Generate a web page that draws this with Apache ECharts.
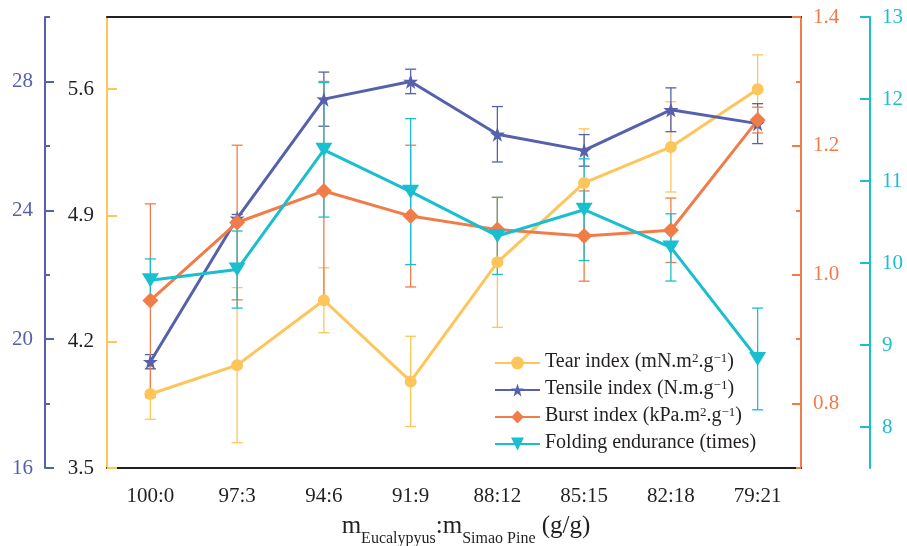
<!DOCTYPE html>
<html>
<head>
<meta charset="utf-8">
<script src="https://cdn.jsdelivr.net/npm/echarts@6/dist/echarts.min.js"></script>
<style>html,body{margin:0;padding:0;background:#fff}#c{width:907px;height:546px}</style>
</head>
<body>
<div id="c"></div>
<script>
const categories = ['100:0','97:3','94:6','91:9','88:12','85:15','82:18','79:21'];
const tearIndex = [3.91, 4.07, 4.43, 3.98, 4.64, 5.08, 5.28, 5.60];
const tearErr = [0.14, 0.43, 0.18, 0.25, 0.36, 0.30, 0.25, 0.19];
const tensileIndex = [19.3, 23.75, 27.45, 28.0, 26.36, 25.86, 27.12, 26.69];
const tensileErr = [0.22, 0.12, 0.84, 0.38, 0.86, 0.49, 0.68, 0.62];
const burstIndex = [0.96, 1.081, 1.13, 1.091, 1.07, 1.06, 1.069, 1.24];
const burstErr = [0.15, 0.12, 0.17, 0.11, 0.05, 0.07, 0.05, 0.02];
const foldingEndurance = [9.79, 9.92, 11.38, 10.87, 10.33, 10.65, 10.19, 8.83];
const foldingErr = [0.26, 0.47, 0.82, 0.89, 0.47, 0.62, 0.41, 0.62];
const tearTicks = [3.5, 4.2, 4.9, 5.6];
const tensileTicks = [16, 20, 24, 28];
const tensileMinor = [18, 22, 26, 30];
const burstTicks = [0.8, 1.0, 1.2, 1.4];
const burstMinor = [0.7, 0.9, 1.1, 1.3];
const foldingTicks = [8, 9, 10, 11, 12, 13];
const seriesNames = ['Tear index', 'Tensile index', 'Burst index', 'Folding endurance'];
const legendLabels = [
  '{a|Tear index (mN.m}{s|2}{a|.g}{s|\u22121}{a|)}',
  '{a|Tensile index (N.m.g}{s|\u22121}{a|)}',
  '{a|Burst index (kPa.m}{s|2}{a|.g}{s|\u22121}{a|)}',
  '{a|Folding endurance (times)}'
];

const FONT = '"Liberation Serif", "Times New Roman", serif';
const C_TEAR = '#FEC55B', C_TENS = '#5561AB', C_BURST = '#F07C4A', C_FOLD = '#19BECF', C_BLACK = '#231F20';
const STAR = 'path://M50,0 L61.8,35.1 L97.6,34.5 L69.1,56.7 L79.4,90.5 L50,70 L20.6,90.5 L30.9,56.7 L2.4,34.5 L38.2,35.1 Z';

function errSeries(vals, errs, color, yIdx) {
  return {
    type: 'custom', yAxisIndex: yIdx, z: 1, silent: true,
    data: vals.map((v, i) => [i, v, errs[i]]),
    renderItem: function (params, api) {
      const x = api.value(0), y = api.value(1), e = api.value(2);
      const t = api.coord([x, y + e]), b = api.coord([x, y - e]);
      const hw = 5.5;
      const st = { stroke: color, lineWidth: 1.3 };
      return { type: 'group', children: [
        { type: 'line', shape: { x1: t[0], y1: t[1], x2: b[0], y2: b[1] }, style: st },
        { type: 'line', shape: { x1: t[0] - hw, y1: t[1], x2: t[0] + hw, y2: t[1] }, style: st },
        { type: 'line', shape: { x1: b[0] - hw, y1: b[1], x2: b[0] + hw, y2: b[1] }, style: st }
      ] };
    }
  };
}

function lineSeries(name, vals, color, yIdx, symbol, size, rot) {
  return {
    name: name, type: 'line', yAxisIndex: yIdx, z: 3, data: vals,
    symbol: symbol, symbolSize: size, symbolRotate: rot || 0, showSymbol: true,
    lineStyle: { color: color, width: 3 }, itemStyle: { color: color }, animation: false
  };
}

function yAx(o) {
  return Object.assign({
    type: 'value', splitLine: { show: false },
    axisLine: { show: true, lineStyle: { width: 2 } },
    axisTick: { show: true, inside: true, lineStyle: { width: 2 } },
    axisLabel: { fontFamily: FONT, fontSize: 21, margin: 12 }
  }, o);
}

const chart = echarts.init(document.getElementById('c'), null, { renderer: 'canvas' });
chart.setOption({
  animation: false,
  backgroundColor: '#fff',
  grid: { left: 107, right: 106, top: 17, bottom: 78, containLabel: false, outerBoundsMode: 'none' },
  legend: {
    data: seriesNames.map(n => ({ name: n })),
    orient: 'vertical', left: 489, top: 347,
    itemWidth: 45, itemHeight: 16, itemGap: 7,
    formatter: function (name) { return legendLabels[seriesNames.indexOf(name)]; },
    textStyle: { fontFamily: FONT, fontSize: 20, color: C_BLACK, rich: {
      a: { fontFamily: FONT, fontSize: 20, color: C_BLACK, lineHeight: 22, verticalAlign: 'top' },
      s: { fontFamily: FONT, fontSize: 13, color: C_BLACK, lineHeight: 13, verticalAlign: 'top' }
    } }
  },
  xAxis: [{
    type: 'category', data: categories, position: 'bottom', boundaryGap: true,
    axisLine: { lineStyle: { color: C_BLACK, width: 2 } },
    axisTick: { inside: true, alignWithLabel: true, length: 9, lineStyle: { width: 2, color: C_BLACK } },
    axisLabel: { fontFamily: FONT, fontSize: 21, color: C_BLACK, margin: 18 },
    name: '{m|m}{s|Eucalypyus}{m|:m}{s|Simao Pine}{m| (g/g)}',
    nameLocation: 'middle', nameGap: 46,
    nameTextStyle: { padding: [0, 0, 0, 24], rich: {
      m: { fontFamily: FONT, fontSize: 25, color: C_BLACK, lineHeight: 26, verticalAlign: 'top' },
      s: { fontFamily: FONT, fontSize: 16, color: C_BLACK, lineHeight: 16, verticalAlign: 'top', padding: [17, 0, 0, 0] }
    } }
  }, {
    type: 'category', data: categories, position: 'top',
    axisLine: { lineStyle: { color: C_BLACK, width: 2 } },
    axisTick: { show: false }, axisLabel: { show: false }
  }],
  yAxis: [
    yAx({ position: 'left', offset: 0, min: 3.5, max: 6.0,
      axisLine: { show: true, lineStyle: { color: C_TEAR, width: 2 } },
      axisTick: { show: true, inside: true, length: 10, customValues: tearTicks, lineStyle: { color: C_TEAR, width: 2 } },
      axisLabel: { fontFamily: FONT, fontSize: 21, color: C_BLACK, margin: 13, customValues: tearTicks, formatter: v => v.toFixed(1) } }),
    yAx({ position: 'left', offset: 62, min: 16, max: 30,
      axisLine: { show: true, lineStyle: { color: C_TENS, width: 2 } },
      axisTick: { show: true, inside: true, length: 9, customValues: tensileTicks, lineStyle: { color: C_TENS, width: 2 } },
      axisLabel: { fontFamily: FONT, fontSize: 21, color: C_TENS, margin: 12, customValues: tensileTicks } }),
    yAx({ position: 'right', offset: 0, min: 0.7, max: 1.4,
      axisLine: { show: true, lineStyle: { color: C_BURST, width: 2 } },
      axisTick: { show: true, inside: true, length: 9, customValues: burstTicks, lineStyle: { color: C_BURST, width: 2 } },
      axisLabel: { fontFamily: FONT, fontSize: 21, color: C_BURST, margin: 12, customValues: burstTicks, formatter: v => v.toFixed(1) } }),
    yAx({ position: 'right', offset: 69, min: 7.5, max: 13,
      axisLine: { show: true, lineStyle: { color: C_FOLD, width: 2 } },
      axisTick: { show: true, inside: true, length: 10, customValues: foldingTicks, lineStyle: { color: C_FOLD, width: 2 } },
      axisLabel: { fontFamily: FONT, fontSize: 21, color: C_FOLD, margin: 12, customValues: foldingTicks } }),
    yAx({ position: 'left', offset: 62, min: 16, max: 30,
      axisLine: { show: false },
      axisTick: { show: true, inside: true, length: 5, customValues: tensileMinor, lineStyle: { color: C_TENS, width: 2 } },
      axisLabel: { show: false } }),
    yAx({ position: 'right', offset: 0, min: 0.7, max: 1.4,
      axisLine: { show: false },
      axisTick: { show: true, inside: true, length: 5, customValues: burstMinor, lineStyle: { color: C_BURST, width: 2 } },
      axisLabel: { show: false } })
  ],
  series: [
    errSeries(tearIndex, tearErr, C_TEAR, 0),
    errSeries(tensileIndex, tensileErr, C_TENS, 1),
    errSeries(burstIndex, burstErr, C_BURST, 2),
    errSeries(foldingEndurance, foldingErr, C_FOLD, 3),
    lineSeries(seriesNames[0], tearIndex, C_TEAR, 0, 'circle', 12),
    lineSeries(seriesNames[1], tensileIndex, C_TENS, 1, STAR, 15),
    lineSeries(seriesNames[2], burstIndex, C_BURST, 2, 'diamond', 16),
    lineSeries(seriesNames[3], foldingEndurance, C_FOLD, 3, 'triangle', [17, 14], 180)
  ]
});
</script>
</body>
</html>
